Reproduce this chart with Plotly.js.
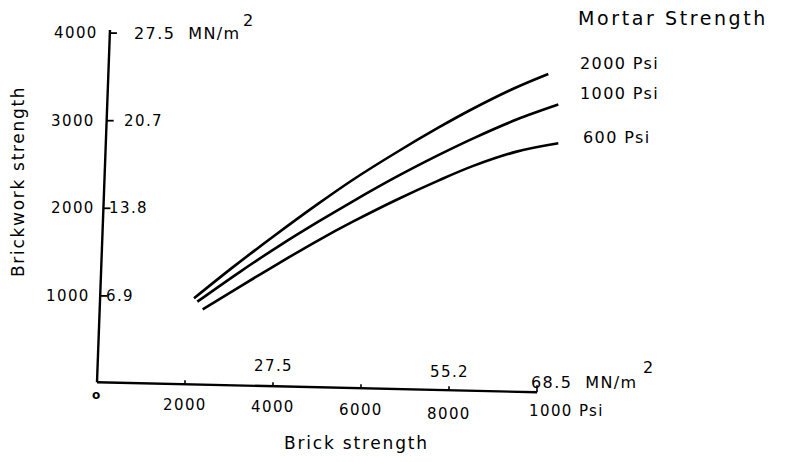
<!DOCTYPE html>
<html><head><meta charset="utf-8">
<script src="https://cdn.plot.ly/plotly-3.0.1.min.js"></script>
<style>
html,body{margin:0;padding:0;background:#fff;}
#chart{width:787px;height:462px;}
.annotation-text{letter-spacing:1.4px;}
</style></head>
<body><div id="chart"></div>
<script>
// Brick strength (psi) vs brickwork strength (psi) for three mortar strengths
const mortarLabels = ["2000 Psi", "1000 Psi", "600 Psi"];
const brick2000 = [2205, 3098, 4007, 5030, 5825, 6811, 7757, 8552, 9536, 10257];
const work2000  = [973, 1331, 1678, 2053, 2329, 2640, 2920, 3139, 3382, 3534];
const brick1000 = [2280, 3250, 4159, 5030, 5825, 6811, 7757, 8552, 9536, 10484];
const work1000  = [934, 1275, 1577, 1847, 2083, 2361, 2607, 2799, 3013, 3184];
const brick600  = [2402, 3250, 4159, 5030, 5825, 6811, 7757, 8552, 9536, 10484];
const work600   = [847, 1107, 1381, 1635, 1850, 2098, 2316, 2484, 2647, 2742];

const xTicks = [2000, 4000, 6000, 8000, 10000];
const xTickLabels = ["2000", "4000", "6000", "8000", "1000 Psi"];
const xTopTicks = [4000, 8000, 10000];
const xTopLabels = ["27.5", "55.2", "68.5  MN/m"];
const yTicks = [1000, 2000, 3000, 4000];
const yTickLabels = ["1000", "2000", "3000", "4000"];
const yRightLabels = ["6.9", "13.8", "20.7", "27.5  MN/m"];

// pixel -> data helpers for layout placement
const X = px => (px - 97) / 0.044;
const Y = py => (383.5 - py) / 0.0876;
// slanted axes like the scan
const xAxisY = x => 15 - 115 * x / 10000;
const yAxisX = y => 295 * y / 4035;

const lineStyle = {color: "#000", width: 2.6, shape: "spline", smoothing: 1};
const traces = [
  {x: brick2000, y: work2000, mode: "lines", line: lineStyle, name: mortarLabels[0]},
  {x: brick1000, y: work1000, mode: "lines", line: lineStyle, name: mortarLabels[1]},
  {x: brick600, y: work600, mode: "lines", line: lineStyle, name: mortarLabels[2]}
];

const shapes = [
  {type: "line", x0: 0, y0: xAxisY(0), x1: 10000, y1: xAxisY(10000), line: {color: "#000", width: 2.4}},
  {type: "line", x0: 0, y0: xAxisY(0), x1: yAxisX(4035), y1: 4035, line: {color: "#000", width: 2.4}}
];
xTicks.forEach((t, i) => {
  const len = i === xTicks.length - 1 ? 80 : 45;
  shapes.push({type: "line", x0: t, x1: t, y0: xAxisY(t), y1: xAxisY(t) + len, line: {color: "#000", width: 1.6}});
});
yTicks.forEach(t => {
  const x0 = yAxisX(t);
  shapes.push({type: "line", x0: x0, x1: x0 + 160, y0: t, y1: t, line: {color: "#000", width: 1.8}});
});

const FAM = "DejaVu Sans, sans-serif";
const font = {family: FAM, size: 15, color: "#000"};
const font16 = {family: FAM, size: 16, color: "#000"};
const ann = [];
const A = (px, py, text, xanchor, f, extra) => ann.push(Object.assign({x: X(px), y: Y(py), xref: "x", yref: "y", text: text, showarrow: false, xanchor: xanchor, yanchor: "middle", font: f}, extra || {}));
// left y tick labels
const yRightEdge = [92, 97, 97, 100];
yTicks.forEach((t, i) => ann.push({x: X(yRightEdge[i]), y: t, xref: "x", yref: "y", text: yTickLabels[i], showarrow: false, xanchor: "right", yanchor: "middle", font: font}));
const yRightLeft = [104, 107, 122, 132];
yTicks.forEach((t, i) => ann.push({x: X(yRightLeft[i]), y: t, xref: "x", yref: "y", text: yRightLabels[i], showarrow: false, xanchor: "left", yanchor: "middle", font: i === 3 ? font16 : font}));
A(241, 20, "2", "left", font16);
// bottom x tick labels
const xLabY = [405, 407, 410, 414, 411];
xTicks.forEach((t, i) => {
  const last = i === xTicks.length - 1;
  ann.push({x: last ? X(527) : t, y: Y(xLabY[i]), xref: "x", yref: "y", text: xTickLabels[i], showarrow: false, xanchor: last ? "left" : "center", yanchor: "middle", font: font});
});
// top x tick labels (MN/m2)
const xTopY = [366, 372, 382];
xTopTicks.forEach((t, i) => {
  const last = i === xTopTicks.length - 1;
  ann.push({x: last ? X(529) : t, y: Y(xTopY[i]), xref: "x", yref: "y", text: xTopLabels[i], showarrow: false, xanchor: last ? "left" : "center", yanchor: "middle", font: last ? font16 : font});
});
A(641, 367, "2", "left", font16);
A(97, 395, "<b>o</b>", "center", {family: FAM, size: 12, color: "#000"});
// series labels
const labY = [63, 93, 137];
const labX = [578, 578, 581];
mortarLabels.forEach((m, i) => A(labX[i], labY[i], m, "left", font16));
A(576, 18, "<span style='letter-spacing:2.6px'>Mortar Strength</span>", "left", {family: FAM, size: 19, color: "#000"});
// axis titles
A(356, 443, "<span style='letter-spacing:1.8px'>Brick strength</span>", "center", {family: FAM, size: 17, color: "#000"});
A(18, 182, "<span style='letter-spacing:1.7px'>Brickwork strength</span>", "center", {family: FAM, size: 17, color: "#000"}, {textangle: -90});

const layout = {
  width: 787, height: 462,
  margin: {l: 0, r: 0, t: 0, b: 0, pad: 0},
  paper_bgcolor: "#fff", plot_bgcolor: "#fff",
  showlegend: false,
  xaxis: {range: [X(0), X(787)], visible: false, fixedrange: true},
  yaxis: {range: [Y(462), Y(0)], visible: false, fixedrange: true},
  shapes: shapes,
  annotations: ann
};
Plotly.newPlot("chart", traces, layout, {staticPlot: true, displayModeBar: false});
</script></body></html>
